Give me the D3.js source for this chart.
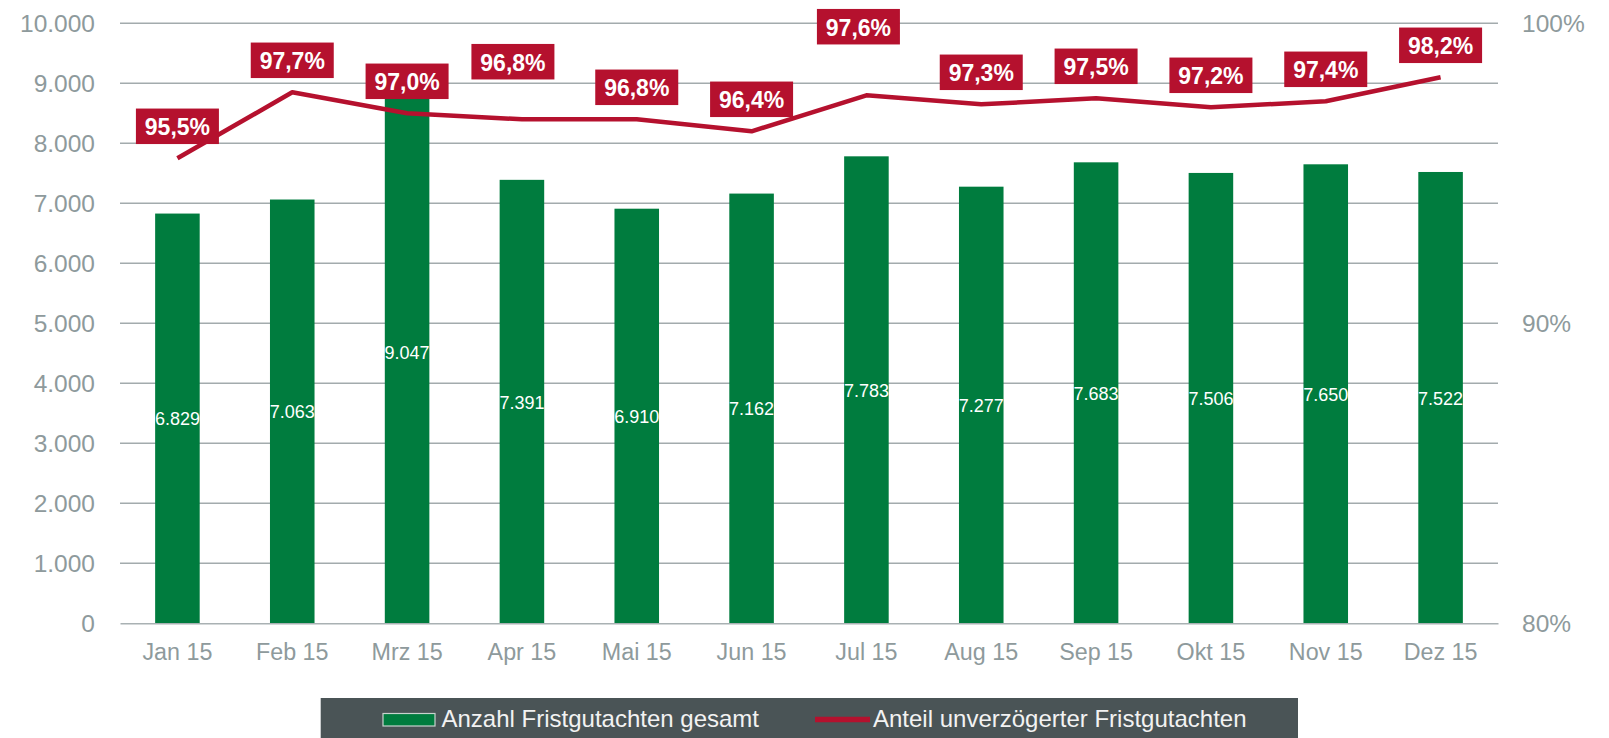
<!DOCTYPE html>
<html>
<head>
<meta charset="utf-8">
<script src="https://cdn.jsdelivr.net/npm/d3@7"></script>
<style>
  html, body { margin: 0; padding: 0; background: #ffffff; }
  svg { display: block; font-family: "Liberation Sans", Arial, Helvetica, sans-serif; }
</style>
</head>
<body>
<svg id="chart" width="1609" height="738"></svg>
<script>
// ---- data ----
const months = ["Jan 15","Feb 15","Mrz 15","Apr 15","Mai 15","Jun 15","Jul 15","Aug 15","Sep 15","Okt 15","Nov 15","Dez 15"];
const counts = [6829, 7063, 9047, 7391, 6910, 7162, 7783, 7277, 7683, 7506, 7650, 7522];
const shares = [95.5, 97.7, 97.0, 96.8, 96.8, 96.4, 97.6, 97.3, 97.5, 97.2, 97.4, 98.2];
const leftTicks = [0, 1000, 2000, 3000, 4000, 5000, 6000, 7000, 8000, 9000, 10000];
const rightTicks = [80, 90, 100];
const seriesNames = ["Anzahl Fristgutachten gesamt", "Anteil unverzögerter Fristgutachten"];

(function () {
// ---- styling / layout ----
const GREEN = "#007c3e", RED = "#b5112e", GREY = "#8e9a9c", GRID = "#a3abad";
const svg = d3.select("#chart");
const pL = 120, pR = 1498, pT = 23.3, pB = 623.3;
const de = d3.formatLocale({decimal: ",", thousands: ".", grouping: [3], currency: ["", "€"]});
const fmtInt = de.format(",.0f");
const fmtPct = de.format(".1f");

const x = d3.scaleBand().domain(months).range([pL, pR]).padding(0);
const yL = d3.scaleLinear().domain([0, 10000]).range([pB, pT]);
const yR = d3.scaleLinear().domain([80, 100]).range([pB, pT]);
const barW = x.bandwidth() * 0.388;

// gridlines
svg.append("g").selectAll("line").data(leftTicks.filter(d => d > 0)).join("line")
  .attr("x1", pL).attr("x2", pR)
  .attr("y1", d => yL(d)).attr("y2", d => yL(d))
  .attr("stroke", GRID).attr("stroke-width", 1.6);

// left axis
const gL = svg.append("g").attr("transform", `translate(${pL},0)`)
  .call(d3.axisLeft(yL).tickValues(leftTicks).tickFormat(fmtInt).tickSize(0).tickPadding(25));
gL.select(".domain").remove();
gL.selectAll("text").attr("fill", GREY).attr("font-size", 24.5).attr("font-family", null);

// right axis
const gR = svg.append("g").attr("transform", `translate(${pR},0)`)
  .call(d3.axisRight(yR).tickValues(rightTicks).tickFormat(d => d + "%").tickSize(0).tickPadding(24));
gR.select(".domain").remove();
gR.selectAll("text").attr("fill", GREY).attr("font-size", 24.5).attr("font-family", null);

// bars
svg.append("g").selectAll("rect").data(months).join("rect")
  .attr("x", (d) => x(d) + x.bandwidth() / 2 - barW / 2)
  .attr("width", barW)
  .attr("y", (d, i) => yL(counts[i]))
  .attr("height", (d, i) => yL(0) - yL(counts[i]))
  .attr("fill", GREEN);

// baseline axis
const gX = svg.append("g").attr("transform", `translate(0,${pB})`)
  .call(d3.axisBottom(x).tickSize(0).tickPadding(20));
gX.select(".domain").attr("stroke", "#a9b1b3").attr("stroke-width", 1.6);
gX.selectAll("text").attr("fill", GREY).attr("font-size", 23.3).attr("font-family", null);

// bar value labels
svg.append("g").selectAll("text").data(months).join("text")
  .attr("x", d => x(d) + x.bandwidth() / 2)
  .attr("y", (d, i) => (yL(counts[i]) + yL(0)) / 2 + 1)
  .attr("text-anchor", "middle").attr("dominant-baseline", "central")
  .attr("fill", "#ffffff").attr("font-size", 18)
  .text((d, i) => fmtInt(counts[i]));

// line
const line = d3.line()
  .x((d, i) => x(months[i]) + x.bandwidth() / 2)
  .y(d => yR(d));
svg.append("path").datum(shares).attr("d", line)
  .attr("fill", "none").attr("stroke", RED).attr("stroke-width", 4.5)
  .attr("stroke-linejoin", "round").attr("stroke-linecap", "butt");

// percentage labels (some lifted manually in the original)
const lift = {"Apr 15": [-9, 25.6], "Jul 15": [-8, 36.6]};
const boxW = 83, boxH = 35.5, gap = 32;
const lab = svg.append("g").selectAll("g").data(months).join("g")
  .attr("transform", (d, i) => {
    const l = lift[d] || [0, 0];
    const cx = x(d) + x.bandwidth() / 2 + l[0];
    const cy = yR(shares[i]) - gap - l[1];
    return `translate(${cx},${cy})`;
  });
lab.append("rect").attr("x", -boxW / 2).attr("y", -boxH / 2)
  .attr("width", boxW).attr("height", boxH).attr("fill", RED);
lab.append("text").attr("text-anchor", "middle").attr("dominant-baseline", "central")
  .attr("y", 1).attr("fill", "#ffffff").attr("font-size", 23).attr("font-weight", "bold")
  .text((d, i) => fmtPct(shares[i]) + "%");

// legend
const leg = svg.append("g");
leg.append("rect").attr("x", 320.7).attr("y", 698).attr("width", 1298 - 320.7).attr("height", 40)
  .attr("fill", "#4a5456");
leg.append("rect").attr("x", 383).attr("y", 713.5).attr("width", 52).attr("height", 12.5)
  .attr("fill", GREEN).attr("stroke", "#c9d3cf").attr("stroke-width", 1.2);
leg.append("text").attr("x", 441.5).attr("y", 726.7).attr("fill", "#f2f2f2").attr("font-size", 24)
  .text(seriesNames[0]);
leg.append("line").attr("x1", 815).attr("x2", 870).attr("y1", 719.5).attr("y2", 719.5)
  .attr("stroke", RED).attr("stroke-width", 5.5);
leg.append("text").attr("x", 873).attr("y", 726.7).attr("fill", "#f2f2f2").attr("font-size", 24)
  .text(seriesNames[1]);
})();
</script>
</body>
</html>
